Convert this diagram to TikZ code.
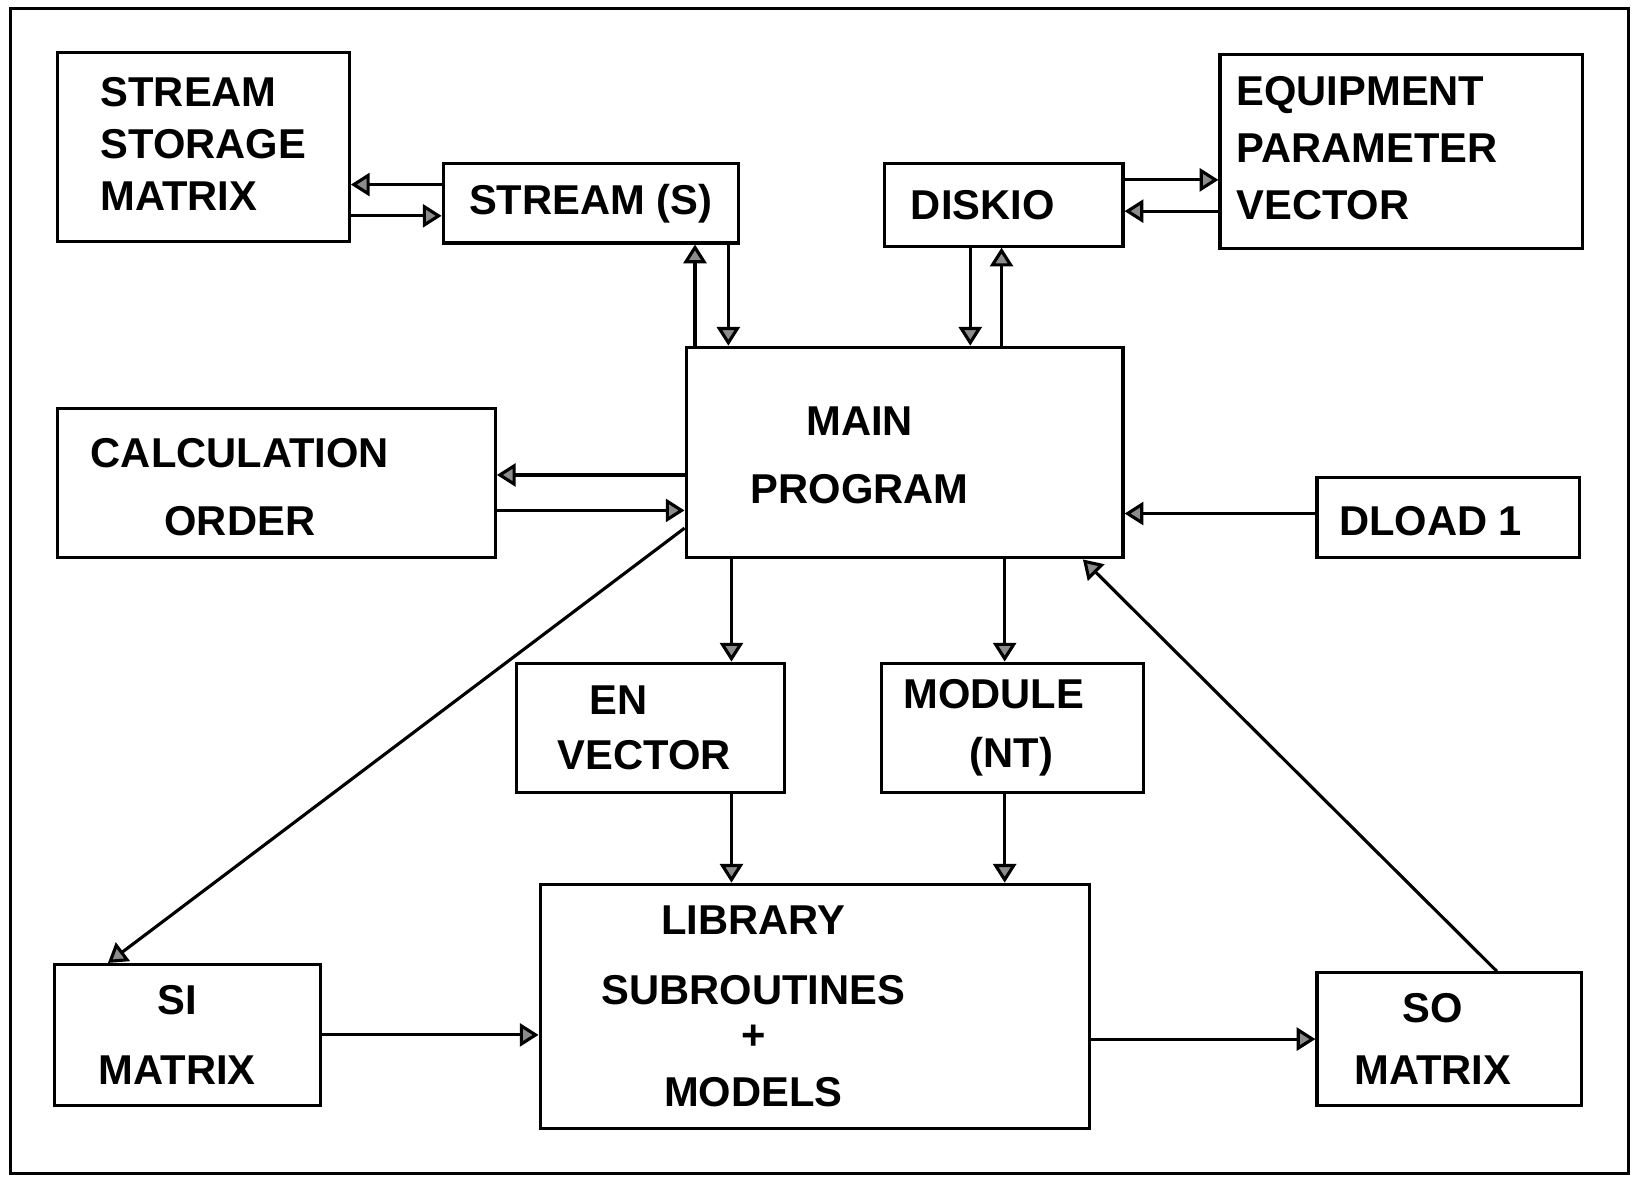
\documentclass[tikz,border=0pt]{standalone}
\usepackage{fontspec}
\setmainfont{Liberation Sans}
\usetikzlibrary{arrows.meta, fit}
\tikzset{
    box/.style = {draw, rectangle, line width=1.5pt, inner sep=0pt},
    block text/.style = {
      font=\fontsize{20}{25}\selectfont\bfseries, align=center, inner sep=0pt,
    },
    link/.style = {
      line width=1.5pt, arrows={-Triangle[length=9pt, width=11pt, fill=black!45]},
    },
    frame/.style = {line width=1.5pt},
}
\newcommand{\block}[5]{%
  %% Draw one block of the chart:
  %% Arguments:
  %%    1. Name
  %%    2. Top left corner
  %%    3. Bottom right corner
  %%    4. Options of the text
  %%    5. Text
  \node [box, fit={(#2) (#3)}, label={[block text, #4]center:{#5}}] (#1) {};
}
\begin{document}
\begin{tikzpicture}[x=0.5pt, y=-0.5pt]
    \useasboundingbox (0,0) rectangle (1568,1128);
    \draw [frame] (10,8) rectangle (1562,1125);

    %% The blocks
    \block{ssm}{55,50}{335,232}{align=left, yshift=1.5pt}{STREAM\\STORAGE\\MATRIX}
    \block{stream}{425,157}{708,233}{}{STREAM (S)}
    \block{diskio}{848,157}{1077,236}{xshift=-10pt}{DISKIO}
    \block{epv}{1170,52}{1518,238}{align=left, xshift=-16.5pt, yshift=1.5pt}{EQUIPMENT\\[2.5pt]PARAMETER\\[2.5pt]VECTOR}
    \block{calc}{55,392}{475,535}{xshift=-17.5pt, yshift=-1.75pt}{CALCULATION\\[7.5pt]ORDER}
    \block{main}{658,333}{1077,535}{xshift=-21.5pt, yshift=-1.5pt}{MAIN\\[7.5pt]PROGRAM}
    \block{dload}{1263,458}{1515,535}{xshift=-8.5pt, yshift=-1.75pt}{DLOAD 1}
    \block{en}{495,636}{752,760}{xshift=-2.75pt}{EN\hspace*{25pt}\\[1.5pt]VECTOR}
    \block{module}{845,636}{1097,760}{xshift=-0.5pt}{MODULE\hspace*{17pt}\\[3.5pt](NT)}
    \block{lib}{518,848}{1045,1082}{xshift=-29.5pt}{LIBRARY\\[8.5pt]SUBROUTINES\\[-3.5pt]+\\[2.5pt]MODELS}
    \block{si}{52,925}{307,1060}{xshift=-4.75pt}{SI\\[8.5pt]MATRIX}
    \block{so}{1263,933}{1517,1060}{xshift=-8pt}{SO\\[5pt]MATRIX}

    %% Stream storage matrix and stream vector
    \coordinate (s1) at ([yshift=9pt]stream.west);
    \coordinate (s2) at ([yshift=-6pt]stream.west);
    \draw [link] (s1) -- (s1 -| ssm.east);
    \draw [link] (s2 -| ssm.east) -- (s2);

    %% Stream vector and main program
    \coordinate (s3) at ([xshift=5pt]main.north west);
    \coordinate (s4) at ([xshift=-5.5pt]stream.south east);
    \draw [link] (s3) -- (s3 |- stream.south);
    \draw [link] (s4) -- (s4 |- main.north);

    %% Disk input/output
    \coordinate (d1) at ([xshift=42pt]diskio.south west);
    \coordinate (d2) at ([xshift=57pt]diskio.south west);
    \draw [link] (d1) -- (d1 |- main.north);
    \draw [link] (d2 |- main.north) -- (d2);
    \coordinate (d3) at ([yshift=12pt]diskio.east);
    \coordinate (d4) at ([yshift=-3pt]diskio.east);
    \draw [link] (d3) -- (d3 -| epv.west);
    \draw [link] (d4 -| epv.west) -- (d4);

    %% Calculation order and load
    \coordinate (c1) at ([yshift=4pt]calc.east);
    \coordinate (c2) at ([yshift=-13pt]calc.east);
    \draw [link] (c1 -| main.west) -- (c1);
    \draw [link] (c2) -- (c2 -| main.west);
    \coordinate (l1) at ([yshift=2pt]dload.west);
    \draw [link] (l1) -- (l1 -| main.east);

    %% Down to the library
    \coordinate (m1) at ([xshift=104pt]en.north west);
    \coordinate (m2) at ([xshift=60pt]module.north west);
    \foreach \m/\b in {m1/en, m2/module}{%
      \draw [link] (\m |- main.south) -- (\m);
      \draw [link] (\m |- \b.south) -- (\m |- lib.north);
    }

    %% Stream in and stream out
    \draw [link] ([yshift=15pt]main.south west) -- ([xshift=26.5pt]si.north west);
    \draw [link] (si.east) -- (si.east -| lib.west);
    \draw [link] (so.west -| lib.east) -- (so.west);
    \draw [link] ([xshift=87pt]so.north west) -- ([xshift=-20pt]main.south east);
\end{tikzpicture}
\end{document}
